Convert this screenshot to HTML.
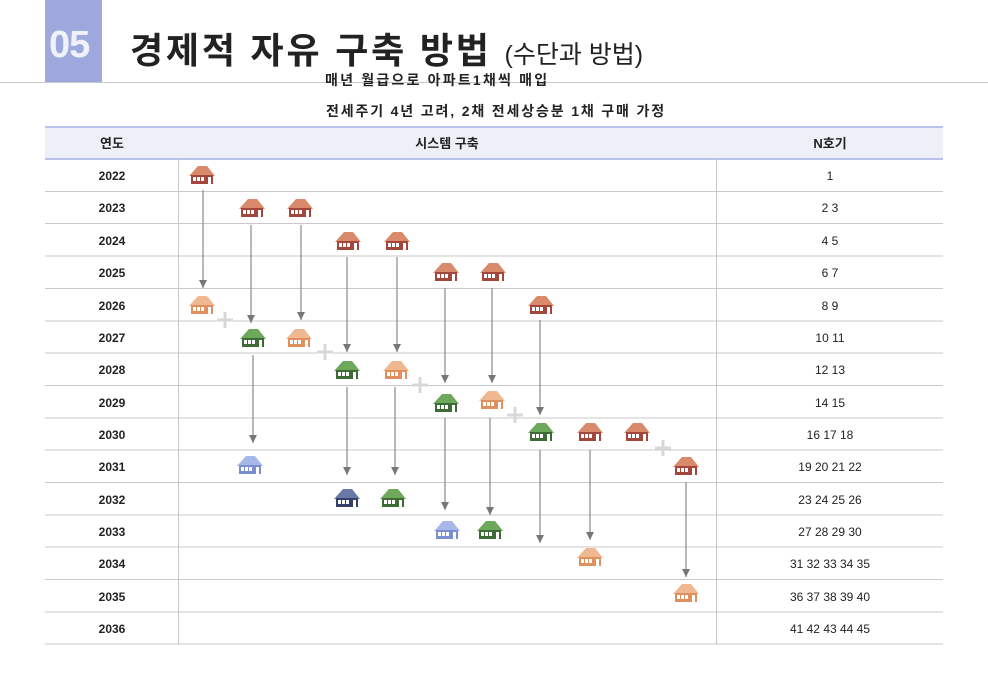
<!DOCTYPE html><html><head><meta charset="utf-8"><style>
body{margin:0;width:988px;height:684px;background:#fff;position:relative;overflow:hidden;font-family:"Liberation Sans","Noto Sans CJK KR",sans-serif;}
.a{position:absolute;}
</style></head><body>
<div class="a" style="left:45px;top:0;width:57px;height:82px;background:#9ea8dc"></div>
<div class="a" style="left:49px;top:24px;font-size:38px;font-weight:bold;color:#f0f2fa;letter-spacing:-1px">05</div>
<div class="a" style="left:0;top:82px;width:988px;height:1px;background:#c8c8c8"></div>
<div class="a" style="left:130px;top:22px;font-size:36px;font-weight:bold;color:#222;white-space:nowrap;letter-spacing:2.8px">경제적 자유 구축 방법 <span style="font-size:25px;font-weight:normal;letter-spacing:0">(수단과 방법)</span></div>
<div class="a" style="left:325px;top:70px;font-size:14px;font-weight:bold;color:#222;letter-spacing:2.2px;white-space:nowrap">매년 월급으로 아파트1채씩 매입</div>
<div class="a" style="left:326px;top:101px;font-size:14px;font-weight:bold;color:#222;letter-spacing:1.85px;white-space:nowrap">전세주기 4년 고려, 2채 전세상승분 1채 구매 가정</div>
<svg class="a" style="left:0;top:0" width="988" height="684" font-family="Liberation Sans,Noto Sans CJK KR,sans-serif">
<defs>
<marker id="ar" markerWidth="8" markerHeight="8" refX="8" refY="4" orient="auto" markerUnits="userSpaceOnUse"><path d="M0,0 L8,4 L0,8z" fill="#777"/></marker>
<g id="h"><path d="M-13,1 L-4,-9 L5,-9 L13,1z" fill="var(--r)"/><rect x="-11" y="0" width="22" height="9" fill="var(--b)"/><g fill="#fff"><rect x="-9" y="2" width="3" height="4"/><rect x="-5" y="2" width="3" height="4"/><rect x="-1" y="2" width="3" height="4"/><rect x="6" y="2" width="3" height="7"/></g></g>
</defs>
<rect x="45" y="127" width="898" height="32" fill="#eef0f8"/>
<line x1="45" y1="127" x2="943" y2="127" stroke="#b8c2ea" stroke-width="2"/>
<line x1="45" y1="159" x2="943" y2="159" stroke="#b8c2ea" stroke-width="2"/>
<g stroke="#c8c8c8" stroke-width="1">
<line x1="45" y1="191.5" x2="943" y2="191.5"/><line x1="45" y1="223.5" x2="943" y2="223.5"/><line x1="45" y1="256" x2="943" y2="256"/><line x1="45" y1="288.5" x2="943" y2="288.5"/><line x1="45" y1="321" x2="943" y2="321"/><line x1="45" y1="353" x2="943" y2="353"/><line x1="45" y1="385.5" x2="943" y2="385.5"/><line x1="45" y1="418" x2="943" y2="418"/><line x1="45" y1="450" x2="943" y2="450"/><line x1="45" y1="482.5" x2="943" y2="482.5"/><line x1="45" y1="515" x2="943" y2="515"/><line x1="45" y1="547" x2="943" y2="547"/><line x1="45" y1="579.5" x2="943" y2="579.5"/><line x1="45" y1="612" x2="943" y2="612"/><line x1="45" y1="644" x2="943" y2="644"/>
<line x1="178.5" y1="159" x2="178.5" y2="644"/><line x1="716.5" y1="159" x2="716.5" y2="644"/>
</g>
<g font-size="13" font-weight="bold" fill="#222" text-anchor="middle">
<text x="112" y="148">연도</text><text x="447" y="148">시스템 구축</text><text x="830" y="148">N호기</text>
</g>
<g font-size="12" font-weight="bold" fill="#222" text-anchor="middle">
<text x="112" y="180">2022</text><text x="112" y="212">2023</text><text x="112" y="245">2024</text><text x="112" y="277">2025</text><text x="112" y="310">2026</text><text x="112" y="342">2027</text><text x="112" y="374">2028</text><text x="112" y="407">2029</text><text x="112" y="439">2030</text><text x="112" y="471">2031</text><text x="112" y="504">2032</text><text x="112" y="536">2033</text><text x="112" y="568">2034</text><text x="112" y="601">2035</text><text x="112" y="633">2036</text>
</g>
<g font-size="12" fill="#222" text-anchor="middle">
<text x="830" y="180">1</text><text x="830" y="212">2 3</text><text x="830" y="245">4 5</text><text x="830" y="277">6 7</text><text x="830" y="310">8 9</text><text x="830" y="342">10 11</text><text x="830" y="374">12 13</text><text x="830" y="407">14 15</text><text x="830" y="439">16 17 18</text><text x="830" y="471">19 20 21 22</text><text x="830" y="504">23 24 25 26</text><text x="830" y="536">27 28 29 30</text><text x="830" y="568">31 32 33 34 35</text><text x="830" y="601">36 37 38 39 40</text><text x="830" y="633">41 42 43 44 45</text>
</g>
<g stroke="#888" stroke-width="1.2" marker-end="url(#ar)">
<line x1="203" y1="190" x2="203" y2="288"/><line x1="251" y1="225" x2="251" y2="323"/><line x1="301" y1="225" x2="301" y2="320"/>
<line x1="347" y1="257" x2="347" y2="352"/><line x1="397" y1="257" x2="397" y2="352"/><line x1="445" y1="288" x2="445" y2="383"/>
<line x1="492" y1="288" x2="492" y2="383"/><line x1="540" y1="320" x2="540" y2="415"/><line x1="253" y1="355" x2="253" y2="443"/>
<line x1="347" y1="387" x2="347" y2="475"/><line x1="395" y1="387" x2="395" y2="475"/><line x1="445" y1="418" x2="445" y2="510"/>
<line x1="490" y1="418" x2="490" y2="515"/><line x1="540" y1="450" x2="540" y2="543"/><line x1="590" y1="450" x2="590" y2="540"/><line x1="686" y1="482" x2="686" y2="577"/>
</g>
<g stroke="#d8d8d8" stroke-width="3">
<path d="M217,320h16M225,312v16"/><path d="M317,352h16M325,344v16"/><path d="M412,385h16M420,377v16"/><path d="M507,415h16M515,407v16"/><path d="M655,448h16M663,440v16"/>
</g>
<g style="--r:#d88a6a;--b:#a4463c">
<use href="#h" x="202" y="175"/><use href="#h" x="252" y="208"/><use href="#h" x="300" y="208"/><use href="#h" x="348" y="241"/><use href="#h" x="397" y="241"/><use href="#h" x="446" y="272"/><use href="#h" x="493" y="272"/><use href="#h" x="541" y="305"/><use href="#h" x="590" y="432"/><use href="#h" x="637" y="432"/><use href="#h" x="686" y="466"/>
</g>
<g style="--r:#f0b890;--b:#e0905e">
<use href="#h" x="202" y="305"/><use href="#h" x="299" y="338"/><use href="#h" x="396" y="370"/><use href="#h" x="492" y="400"/><use href="#h" x="590" y="557"/><use href="#h" x="686" y="593"/>
</g>
<g style="--r:#6ea85a;--b:#3e6a36">
<use href="#h" x="253" y="338"/><use href="#h" x="347" y="370"/><use href="#h" x="446" y="403"/><use href="#h" x="541" y="432"/><use href="#h" x="393" y="498"/><use href="#h" x="490" y="530"/>
</g>
<g style="--r:#a8b8e8;--b:#7a8ed0"><use href="#h" x="250" y="465"/><use href="#h" x="447" y="530"/></g>
<g style="--r:#6a7aa8;--b:#36406a"><use href="#h" x="347" y="498"/></g>
</svg>
</body></html>
